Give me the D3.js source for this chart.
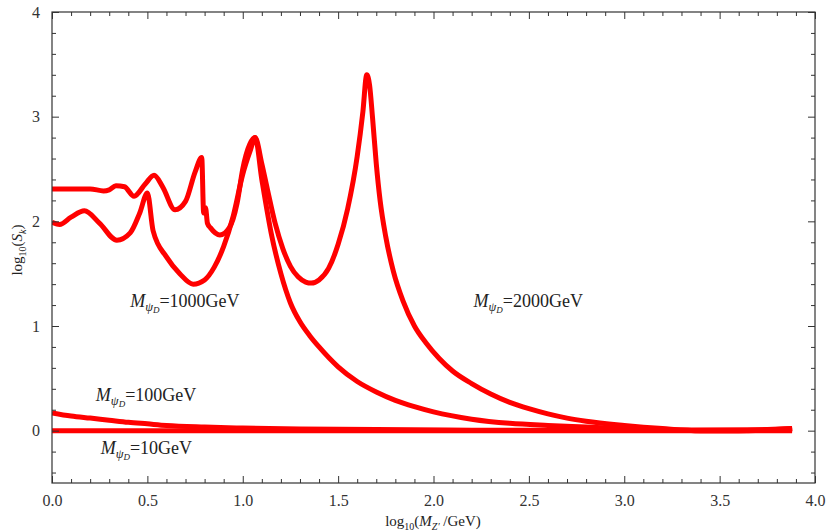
<!DOCTYPE html>
<html><head><meta charset="utf-8">
<script src="https://cdn.jsdelivr.net/npm/d3@7"></script>
<style>
body{margin:0;background:#fff;}
svg text{font-family:"Liberation Serif","Times New Roman",serif;}
</style></head>
<body><svg id="chart" width="828" height="532"></svg>
<script>
// ---- data ----
const x1000 = [0,0.04,0.1,0.17,0.25,0.34,0.41,0.46,0.50,0.53,0.60,0.67,0.74,0.80,0.85,0.90,0.95,1.00,1.04,1.065,1.10,1.15,1.20,1.25,1.30,1.35,1.40,1.50,1.60,1.70,1.80,1.90,2.0,2.2,2.4,2.6,2.8,3.0,3.2,3.4,3.65,3.88];
const y1000 = [1.99,1.97,2.04,2.10,1.98,1.82,1.89,2.08,2.27,1.91,1.66,1.50,1.40,1.44,1.56,1.76,2.05,2.45,2.68,2.80,2.40,1.88,1.50,1.22,1.04,0.91,0.80,0.61,0.47,0.37,0.29,0.23,0.18,0.11,0.07,0.05,0.035,0.02,0.01,0.0,0.0,0.02];
const x2000 = [0,0.1,0.2,0.27,0.30,0.335,0.38,0.43,0.49,0.535,0.58,0.645,0.70,0.75,0.785,0.795,0.805,0.815,0.83,0.88,0.93,0.97,1.0,1.065,1.10,1.13,1.17,1.21,1.25,1.29,1.33,1.36,1.40,1.45,1.50,1.55,1.60,1.63,1.65,1.665,1.68,1.70,1.72,1.75,1.79,1.84,1.90,1.96,2.03,2.10,2.2,2.3,2.4,2.5,2.6,2.7,2.8,3.0,3.2,3.4,3.6,3.75,3.88];
const y2000 = [2.31,2.31,2.31,2.29,2.30,2.34,2.33,2.24,2.36,2.44,2.33,2.11,2.19,2.47,2.61,2.08,2.13,1.98,1.94,1.87,1.94,2.17,2.50,2.80,2.55,2.30,1.98,1.74,1.57,1.47,1.42,1.41,1.44,1.55,1.78,2.12,2.62,3.05,3.40,3.30,3.00,2.55,2.20,1.85,1.52,1.24,1.00,0.84,0.69,0.57,0.45,0.35,0.27,0.21,0.16,0.12,0.09,0.05,0.02,0.0,0.0,0.01,0.02];
const x100 = [0,0.1,0.2,0.3,0.4,0.5,0.6,0.8,1.0,1.3,1.7,2.2,3.0,3.88];
const y100 = [0.17,0.14,0.12,0.10,0.08,0.065,0.05,0.035,0.025,0.015,0.01,0.005,0.003,0.01];
const x10 = [0,1,2,3,3.88];
const y10 = [0,0,0,0,0];
const xTicks = [0,0.5,1,1.5,2,2.5,3,3.5,4];
const xTickLabels = ["0.0","0.5","1.0","1.5","2.0","2.5","3.0","3.5","4.0"];
const yTicks = [0,1,2,3,4];
const yTickLabels = ["0","1","2","3","4"];
const seriesNames = ["10","100","1000","2000"];

// ---- layout ----
const svg = d3.select("#chart");
const L = 52, R = 815, T = 12, B = 483;
const x = d3.scaleLinear().domain([0,4]).range([L,R]);
const y = d3.scaleLinear().domain([-0.5,4]).range([B,T]);
const axisCol = "#333";

const series = [
  {name:seriesNames[0], xs:x10, ys:y10},
  {name:seriesNames[1], xs:x100, ys:y100},
  {name:seriesNames[2], xs:x1000, ys:y1000},
  {name:seriesNames[3], xs:x2000, ys:y2000}
];
const line = d3.line().x(d=>x(d[0])).y(d=>y(d[1])).curve(d3.curveMonotoneX);
const g = svg.append("g");
g.append("clipPath").attr("id","clip").append("rect").attr("x",L).attr("y",T).attr("width",R-L).attr("height",B-T);
series.forEach(s=>{
  g.append("path").datum(s.xs.map((v,i)=>[v,s.ys[i]]))
   .attr("d",line).attr("fill","none").attr("stroke","#ff0000")
   .attr("stroke-width",5).attr("stroke-linejoin","round").attr("stroke-linecap","butt")
   .attr("clip-path","url(#clip)");
});

// frame
svg.append("rect").attr("x",L).attr("y",T).attr("width",R-L).attr("height",B-T)
  .attr("fill","none").attr("stroke",axisCol).attr("stroke-width",1.2);

const xMinor = d3.range(0,4.001,0.1).filter(v=>Math.abs(v*2-Math.round(v*2))>1e-6);
const yMinor = d3.range(-0.4,4.001,0.2).filter(v=>Math.abs(v-Math.round(v))>1e-6);
const maj = 7, mnr = 4;
svg.append("g").attr("transform",`translate(0,${B})`)
  .call(d3.axisBottom(x).tickValues(xTicks).tickFormat((d,i)=>xTickLabels[i]).tickSizeInner(-maj).tickSizeOuter(0).tickPadding(12));
svg.append("g").attr("transform",`translate(0,${B})`)
  .call(d3.axisBottom(x).tickValues(xMinor).tickFormat("").tickSizeInner(-mnr).tickSizeOuter(0));
svg.append("g").attr("transform",`translate(0,${T})`)
  .call(d3.axisTop(x).tickValues(xTicks).tickFormat("").tickSizeInner(-maj).tickSizeOuter(0));
svg.append("g").attr("transform",`translate(0,${T})`)
  .call(d3.axisTop(x).tickValues(xMinor).tickFormat("").tickSizeInner(-mnr).tickSizeOuter(0));
svg.append("g").attr("transform",`translate(${L},0)`)
  .call(d3.axisLeft(y).tickValues(yTicks).tickFormat((d,i)=>yTickLabels[i]).tickSizeInner(-maj).tickSizeOuter(0).tickPadding(12));
svg.append("g").attr("transform",`translate(${L},0)`)
  .call(d3.axisLeft(y).tickValues(yMinor).tickFormat("").tickSizeInner(-mnr).tickSizeOuter(0));
svg.append("g").attr("transform",`translate(${R},0)`)
  .call(d3.axisRight(y).tickValues(yTicks).tickFormat("").tickSizeInner(-maj).tickSizeOuter(0));
svg.append("g").attr("transform",`translate(${R},0)`)
  .call(d3.axisRight(y).tickValues(yMinor).tickFormat("").tickSizeInner(-mnr).tickSizeOuter(0));
svg.selectAll(".domain").remove();
svg.selectAll(".tick line").attr("stroke",axisCol).attr("stroke-width",1);
svg.selectAll(".tick text").attr("fill","#333").style("font-size","16px").style("font-family","'Liberation Serif',serif");

// axis titles
const xt = svg.append("text").attr("x",433).attr("y",526).attr("text-anchor","middle").attr("fill","#222").style("font-size","15px");
xt.append("tspan").text("log");
xt.append("tspan").attr("dy",4).style("font-size","10px").text("10");
xt.append("tspan").attr("dy",-4).text("(");
xt.append("tspan").style("font-style","italic").text("M");
xt.append("tspan").attr("dy",4).style("font-size","10px").style("font-style","italic").text("Z′");
xt.append("tspan").attr("dy",-4).text(" /GeV)");

const yt = svg.append("text").attr("transform","translate(22,250) rotate(-90)").attr("text-anchor","middle").attr("fill","#222").style("font-size","15px");
yt.append("tspan").text("log");
yt.append("tspan").attr("dy",4).style("font-size","10px").text("10");
yt.append("tspan").attr("dy",-4).text("(");
yt.append("tspan").style("font-style","italic").text("S");
yt.append("tspan").attr("dy",4).style("font-size","10px").style("font-style","italic").text("k");
yt.append("tspan").attr("dy",-4).text(")");

// annotations
const labels = [
  {t:"1000", px:0.41, py:1.18},
  {t:"2000", px:2.21, py:1.18},
  {t:"100", px:0.23, py:0.28},
  {t:"10", px:0.255, py:-0.22}
];
labels.forEach(l=>{
  const tx = svg.append("text").attr("x",x(l.px)).attr("y",y(l.py)).attr("fill","#222").style("font-size","18px");
  tx.append("tspan").style("font-style","italic").text("M");
  tx.append("tspan").attr("dy",4).style("font-size","12.5px").style("font-style","italic").text("ψ");
  tx.append("tspan").attr("dy",2).style("font-size","9px").style("font-style","italic").text("D");
  tx.append("tspan").attr("dy",-6).text("=" + l.t + "GeV");
});
</script></body></html>
